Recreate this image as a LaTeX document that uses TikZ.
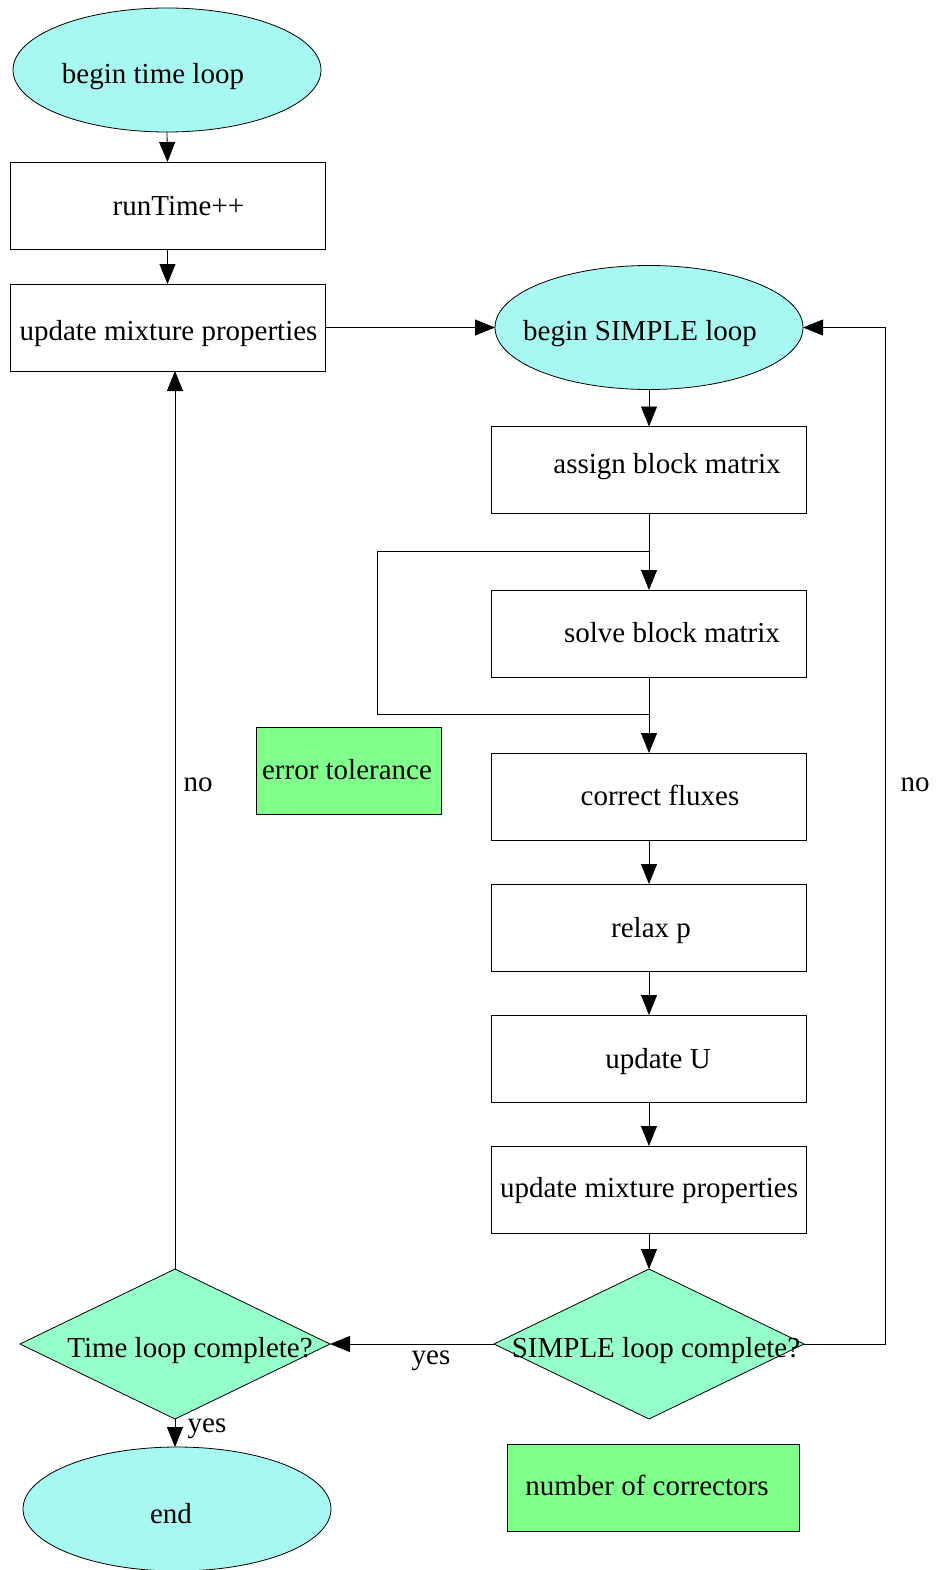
\documentclass[tikz,border=0pt]{standalone}
\usepackage{fontspec}
\setmainfont{Liberation Serif}
\usetikzlibrary{shapes.geometric,arrows.meta}
\definecolor{cyanfill}{RGB}{166,248,240}
\definecolor{diafill}{RGB}{148,255,200}
\definecolor{greenfill}{RGB}{128,255,138}
\begin{document}
\begin{tikzpicture}[x=1pt,y=-1pt,
  every node/.style={font=\fontsize{29}{34}\selectfont, inner sep=0, outer sep=0},
  oval/.style={ellipse, draw, line width=0.8pt, fill=cyanfill, minimum width=308, minimum height=124},
  procbox/.style={rectangle, draw, line width=0.8pt, fill=white, minimum width=315, minimum height=87},
  notebox/.style={rectangle, draw, line width=0.8pt, fill=greenfill},
  decide/.style={diamond, draw, line width=0.8pt, fill=diafill, minimum width=310, minimum height=150, aspect=2.07},
  arr/.style={draw, line width=0.8pt, -{Triangle[length=20pt,width=16pt]}},
  ln/.style={draw, line width=0.8pt},
  lbl/.style={font=\fontsize{29}{34}\selectfont}
]
\useasboundingbox (0,0) rectangle (942,1570);

% left column
\node[oval, label={[xshift=-14pt,yshift=-7pt]center:begin time loop}] (btl) at (167,70) {};
\node[procbox, label={[xshift=11pt,yshift=-1pt]center:runTime++}] (rt) at (167.5,205.5) {};
\node[procbox, label={[xshift=1pt,yshift=-6pt]center:update mixture properties}] (um1) at (167.5,327.5) {};

% right column
\node[oval, label={[xshift=-9pt,yshift=-6pt]center:begin SIMPLE loop}] (bsl) at (649,327.5) {};
\node[procbox, label={[xshift=18pt,yshift=3pt]center:assign block matrix}] (abm) at (649,470) {};
\node[procbox, label={[xshift=23pt,yshift=1pt]center:solve block matrix}] (sbm) at (649,633.5) {};
\node[procbox, label={[xshift=11pt,yshift=1pt]center:correct fluxes}] (cf) at (649,796.5) {};
\node[procbox, label={[xshift=2pt,yshift=-3pt]center:relax p}] (rp) at (649,927.5) {};
\node[procbox, label={[xshift=9pt,yshift=-3pt]center:update U}] (uu) at (649,1058.5) {};
\node[procbox, label={[xshift=0pt,yshift=-1pt]center:update mixture properties}] (um2) at (649,1189.5) {};

\node[decide, label={[xshift=7pt,yshift=-7pt]center:SIMPLE loop complete?}] (sd) at (649,1344) {};
\node[decide, label={[xshift=15pt,yshift=-7pt]center:Time loop complete?}] (td) at (175,1344) {};
\node[oval, label={[xshift=-6pt,yshift=-5pt]center:end}] (en) at (177,1509) {};

\node[notebox, minimum width=185, minimum height=87, label={[xshift=-2pt,yshift=1pt]center:error tolerance}] (et) at (349,770.5) {};
\node[notebox, minimum width=292, minimum height=87, label={[xshift=-6pt,yshift=2pt]center:number of correctors}] (nc) at (653,1487.5) {};

% connectors
\draw[arr] (btl.south) -- (rt.north);
\draw[arr] (rt.south) -- (um1.north);
\draw[arr] (um1.east) -- (bsl.west);
\draw[arr] (bsl.south) -- (abm.north);
\draw[arr] (abm.south) -- (sbm.north);
\draw[arr] (sbm.south) -- (cf.north);
\coordinate (j1) at (649,551);
\coordinate (j2) at (649,714);
\coordinate (k1) at (377,551);
\coordinate (k2) at (377,714);
\draw[ln] (j1) -- (k1) -- (k2) -- (j2);
\draw[arr] (cf.south) -- (rp.north);
\draw[arr] (rp.south) -- (uu.north);
\draw[arr] (uu.south) -- (um2.north);
\draw[arr] (um2.south) -- (sd.north);
\coordinate (r1) at (885,1344);
\draw[arr] (sd.east) -- (r1) |- (bsl.east);
\node[lbl] (no1) at (915,785) {no};
\draw[arr] (sd.west) -- (td.east);
\node[lbl] (yes1) at (431,1361) {yes};
\draw[arr] (td.north) -- (td.north |- um1.south);
\node[lbl] (no2) at (198,785) {no};
\draw[arr] (td.south) -- (td.south |- en.north);
\node[lbl] (yes2) at (207,1429) {yes};
\end{tikzpicture}
\end{document}
